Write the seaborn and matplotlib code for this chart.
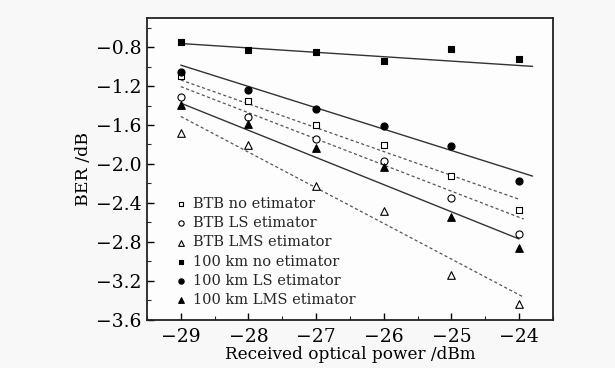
import numpy as np
import pandas as pd
import matplotlib
matplotlib.use("Agg")
import matplotlib.pyplot as plt
import seaborn as sns
from matplotlib.ticker import MultipleLocator

# ---- data ----
power = [-29, -28, -27, -26, -25, -24]
btb_no = [-1.10, -1.35, -1.60, -1.81, -2.12, -2.47]
btb_ls = [-1.31, -1.52, -1.74, -1.97, -2.35, -2.72]
btb_lms = [-1.68, -1.81, -2.23, -2.48, -3.14, -3.44]
km_no = [-0.75, -0.83, -0.85, -0.94, -0.82, -0.92]
km_ls = [-1.05, -1.24, -1.43, -1.61, -1.82, -2.18]
km_lms = [-1.39, -1.59, -1.84, -2.03, -2.55, -2.86]

series_names = ["BTB no etimator", "BTB LS etimator", "BTB LMS etimator",
                "100 km no etimator", "100 km LS etimator", "100 km LMS etimator"]

# trend lines: (x_start, x_end), (y_start, y_end)
trend_x = [(-29, -24.0), (-29, -23.93), (-29, -23.93),
           (-29, -23.8), (-29, -23.8), (-29, -24.0)]
trend_y = [(-1.137, -2.363), (-1.205, -2.567), (-1.512, -3.37),
           (-0.762, -0.997), (-0.984, -2.125), (-1.375, -2.771)]

xticks = [-29, -28, -27, -26, -25, -24]
yticks = [-3.6, -3.2, -2.8, -2.4, -2.0, -1.6, -1.2, -0.8]

# ---- style ----
sns.set_theme(style="ticks")
plt.rcParams['font.family'] = ['DejaVu Serif']
plt.rcParams['axes.unicode_minus'] = True

markers = ["s", "o", "^", "s", "o", "^"]
filled = [False, False, False, True, True, True]
msizes = [20, 26, 30, 20, 26, 30]
line_styles = [(0, (2.5, 2)), (0, (2.5, 2)), (0, (2.5, 2)), "-", "-", "-"]
line_colors = ["#555555", "#555555", "#555555", "#333333", "#333333", "#333333"]
line_widths = [0.9, 0.9, 0.9, 1.0, 1.0, 1.0]

fig = plt.figure(figsize=(6.15, 3.68), dpi=100, facecolor="#f8f8f8")
ax = fig.add_axes([0.239, 0.1315, 0.66, 0.8195])
ax.set_facecolor("#fdfdfd")

all_y = [btb_no, btb_ls, btb_lms, km_no, km_ls, km_lms]

for i, (name, ys) in enumerate(zip(series_names, all_y)):
    dfl = pd.DataFrame({"x": list(trend_x[i]), "y": list(trend_y[i])})
    sns.lineplot(data=dfl, x="x", y="y", ax=ax, color=line_colors[i],
                 linewidth=line_widths[i], linestyle=line_styles[i],
                 legend=False, zorder=2)

for i, (name, ys) in enumerate(zip(series_names, all_y)):
    df = pd.DataFrame({"x": power, "y": ys})
    fc = "black" if filled[i] else "white"
    sns.scatterplot(data=df, x="x", y="y", ax=ax, marker=markers[i],
                    s=msizes[i], facecolor=fc, edgecolor="black",
                    linewidth=0.8, label=name, zorder=3)

ax.set_xlim(-29.5, -23.5)
ax.set_ylim(-3.6, -0.5)
ax.set_xticks(xticks)
ax.set_yticks(yticks)
ax.xaxis.set_minor_locator(MultipleLocator(0.5))
ax.yaxis.set_minor_locator(MultipleLocator(0.2))
ax.set_yticklabels([f"{v:.1f}".replace("-", "\u2212") for v in yticks])
ax.set_xticklabels([f"{v}".replace("-", "\u2212") for v in xticks])
ax.tick_params(axis="both", which="major", direction="in", length=5, width=1,
               labelsize=13.5, colors="black", pad=4, top=False, right=False)
ax.tick_params(axis="x", which="major", pad=6)
ax.tick_params(axis="both", which="minor", direction="in", length=3, width=0.8,
               top=False, right=False)
for sp in ax.spines.values():
    sp.set_linewidth(1.3)
    sp.set_color("#222222")

ax.set_xlabel("Received optical power /dBm", fontsize=12.2, labelpad=0, color="black")
ax.set_ylabel("BER /dB", fontsize=12.5, labelpad=3, color="black")

leg = ax.legend(loc="lower left", bbox_to_anchor=(0.045, 0.012), frameon=False,
                fontsize=10.5, handletextpad=0.3, labelspacing=0.36,
                markerscale=0.75, handlelength=1.0, borderaxespad=0.2)

fig.savefig("out.png", dpi=100, facecolor=fig.get_facecolor())
